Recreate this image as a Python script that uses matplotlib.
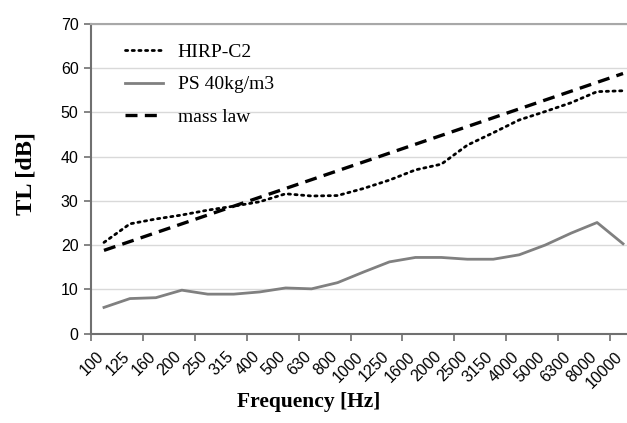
import matplotlib
matplotlib.use("Agg")
import matplotlib.pyplot as plt
import matplotlib.transforms as mtransforms
import numpy as np

freqs = ["100", "125", "160", "200", "250", "315", "400", "500", "630", "800",
         "1000", "1250", "1600", "2000", "2500", "3150", "4000", "5000", "6300",
         "8000", "10000"]
hirp_c2 = [20.6, 24.8, 25.9, 26.8, 27.9, 28.8, 29.8, 31.6, 31.1, 31.2,
           32.8, 34.7, 37.0, 38.3, 42.6, 45.4, 48.3, 50.2, 52.2, 54.7, 54.9]
ps_40 = [5.9, 7.9, 8.1, 9.8, 8.9, 8.9, 9.4, 10.3, 10.1, 11.5,
         13.9, 16.2, 17.2, 17.2, 16.8, 16.8, 17.8, 20.0, 22.7, 25.1, 20.3]
mass_law = [18.8, 20.8, 22.8, 24.8, 26.8, 28.8, 30.8, 32.8, 34.8, 36.8,
            38.8, 40.8, 42.8, 44.8, 46.8, 48.8, 50.8, 52.8, 54.8, 56.8, 58.8]
y_ticks = [0, 10, 20, 30, 40, 50, 60, 70]

fig = plt.figure(figsize=(6.27, 4.23), dpi=100)
ax = fig.add_axes([91/627, 89.5/423, (636-91)/627, (333.5-24)/423])

x = np.arange(len(freqs))
ax.plot(x, hirp_c2, color="black", lw=2.0, linestyle=(0, (0.8, 1.6)),
        dash_capstyle="round", label="HIRP-C2")
ax.plot(x, ps_40, color="#808080", lw=2.0, label="PS 40kg/m3")
ax.plot(x, mass_law, color="black", lw=2.4, linestyle=(0, (3.6, 2.2)), label="mass law")

ax.set_xlim(-0.5, len(freqs) - 0.5)
ax.set_ylim(0, 70)
ax.set_yticks(y_ticks)
ax.yaxis.grid(True, color="#d9d9d9", lw=1.0)
ax.set_axisbelow(True)

ax.set_xticks(x)
ax.set_xticklabels(freqs, rotation=45, ha="right", va="top",
                   rotation_mode="anchor", fontsize=11.5, family="Liberation Sans")
ax.tick_params(axis="x", which="major", length=0, pad=9)
shift = mtransforms.ScaledTranslation(-8/100, -3/100, fig.dpi_scale_trans)
for lab in ax.get_xticklabels():
    lab.set_transform(lab.get_transform() + shift)
ax.set_xticks(np.arange(-0.5, len(freqs), 2), minor=True)
ax.tick_params(axis="x", which="minor", length=5, width=1.2, color="#707070", direction="out")
ax.tick_params(axis="y", length=5, width=1.2, color="#707070", direction="out", pad=4)
for lab in ax.get_yticklabels():
    lab.set_family("Liberation Sans")
    lab.set_fontsize(11.5)

for s in ["left", "bottom"]:
    ax.spines[s].set_color("#707070")
    ax.spines[s].set_linewidth(1.5)
ax.spines["top"].set_color("#a8a8a8")
ax.spines["top"].set_linewidth(1.5)
ax.spines["right"].set_visible(False)

ax.set_ylabel("TL [dB]", family="Liberation Serif", fontweight="bold", fontsize=17.5)
ax.yaxis.set_label_coords(-(91-26)/545, (333.5-174)/309.5)
ax.yaxis.label.set_va("center")
ax.set_xlabel("Frequency [Hz]", family="Liberation Serif", fontweight="bold", fontsize=15.5)
ax.xaxis.set_label_coords((309-91)/545, -(402-333.5)/309.5)
ax.xaxis.label.set_va("center")

leg = ax.legend(loc="upper left", bbox_to_anchor=((125-91)/545, (333.5-43)/309.5),
                frameon=False, borderpad=0, borderaxespad=0,
                prop={"family": "Liberation Serif", "size": 14},
                handlelength=1.95, labelspacing=0.78, handletextpad=0.75)

fig.savefig("out.png", dpi=100)
